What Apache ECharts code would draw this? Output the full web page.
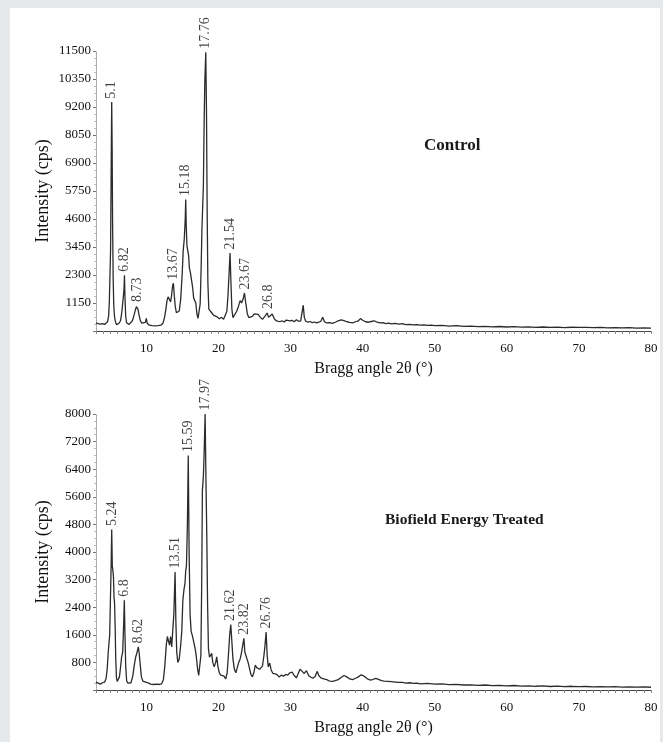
<!DOCTYPE html>
<html>
<head>
<meta charset="utf-8">
<script src="https://cdn.jsdelivr.net/npm/echarts@6/dist/echarts.min.js"></script>
<style>
html,body{margin:0;padding:0;background:#e6e9eb;}
#c{width:663px;height:742px;}
</style>
</head>
<body>
<div id="c"></div>
<script>
// ---- Control pattern (2θ in degrees, intensity in cps) ----
const controlTheta = [3.0,3.3,3.6,3.9,4.2,4.4,4.6,4.75,4.85,4.95,5.02,5.08,5.14,5.18,5.24,5.3,5.38,5.46,5.56,5.7,5.85,6.0,6.2,6.4,6.55,6.68,6.78,6.88,6.95,7.02,7.12,7.25,7.4,7.6,7.85,8.05,8.25,8.45,8.6,8.7,8.82,8.98,9.15,9.35,9.6,9.85,9.98,10.1,10.4,10.8,11.2,11.6,12.0,12.3,12.5,12.7,12.85,13.0,13.15,13.35,13.5,13.62,13.74,13.85,14.0,14.15,14.35,14.55,14.75,14.95,15.1,15.25,15.38,15.45,15.52,15.62,15.75,15.85,15.95,16.1,16.25,16.4,16.55,16.7,16.85,17.0,17.15,17.3,17.45,17.58,17.7,17.8,17.9,18.0,18.1,18.23,18.33,18.42,18.52,18.65,18.85,19.05,19.3,19.55,19.8,20.1,20.4,20.7,20.95,21.15,21.3,21.45,21.6,21.72,21.85,22.0,22.2,22.5,22.75,23.0,23.2,23.4,23.6,23.8,24.0,24.2,24.45,24.7,24.95,25.2,25.5,25.8,26.1,26.35,26.55,26.75,26.95,27.2,27.45,27.7,27.95,28.2,28.5,28.8,29.1,29.4,29.6,29.9,30.2,30.5,30.8,31.1,31.4,31.6,31.75,31.9,32.1,32.4,32.7,33.0,33.3,33.6,33.9,34.2,34.45,34.7,35.0,35.4,35.8,36.2,36.6,37.0,37.4,37.8,38.2,38.6,39.0,39.4,39.7,40.0,40.4,40.8,41.2,41.6,42.0,42.4,42.8,43.2,43.6,44.0,44.5,45.0,45.5,46.0,46.5,47.0,47.5,48.0,48.5,49.0,49.5,50,51,52,53,54,55,56,57,58,59,60,61,62,63,64,65,66,67,68,69,70,71,72,73,74,75,76,77,78,79,80];
const controlIntensity = [330,300,280,300,270,300,380,600,1200,2400,3300,5500,8000,9400,7500,4500,2200,1100,600,380,260,280,320,420,700,1050,1100,1700,2290,1400,600,330,260,270,330,420,620,850,1000,1050,900,650,430,320,290,350,520,320,240,220,210,220,240,320,550,900,1250,1400,1350,1200,1500,1850,1960,1500,1000,750,700,820,1300,2300,3300,3800,4600,5400,4300,3500,3450,3100,2600,2400,2350,1800,1350,1300,1150,700,520,600,1100,2500,4200,5100,6000,8500,10300,11450,9000,5000,2000,900,850,750,650,700,580,500,560,480,520,800,1400,2300,3200,2000,900,550,600,800,1000,1250,1150,1300,1560,1100,700,550,520,600,700,720,680,560,480,560,650,740,560,620,700,520,430,470,380,420,370,450,500,420,440,380,460,400,420,480,1060,560,400,360,390,340,370,330,360,400,560,380,330,340,310,360,420,460,430,380,350,330,380,420,510,440,380,360,390,420,360,330,340,300,320,290,310,280,300,260,270,250,260,240,250,230,240,220,230,200,220,190,200,180,190,170,185,165,180,160,170,150,165,150,160,140,155,145,150,135,145,130,140,125,135,120,130,120];

// ---- Biofield Energy Treated pattern ----
const treatedTheta = [3.0,3.3,3.6,3.9,4.2,4.4,4.55,4.7,4.8,4.9,5.0,5.1,5.18,5.26,5.34,5.42,5.5,5.58,5.66,5.74,5.84,5.95,6.1,6.25,6.4,6.55,6.7,6.82,6.93,7.02,7.12,7.25,7.4,7.6,7.85,8.1,8.3,8.5,8.7,8.87,9.0,9.15,9.3,9.5,9.75,10.0,10.3,10.6,11.0,11.4,11.8,12.1,12.35,12.55,12.75,12.9,13.05,13.2,13.35,13.5,13.65,13.8,13.97,14.08,14.2,14.35,14.55,14.75,14.9,15.05,15.2,15.35,15.45,15.55,15.68,15.8,15.92,16.05,16.2,16.35,16.5,16.65,16.8,16.95,17.1,17.25,17.4,17.55,17.66,17.76,17.9,18.02,18.14,18.26,18.37,18.48,18.6,18.75,18.9,19.05,19.2,19.4,19.6,19.75,19.9,20.1,20.3,20.5,20.75,21.0,21.2,21.4,21.55,21.7,21.85,22.0,22.2,22.4,22.6,22.8,23.0,23.2,23.4,23.52,23.65,23.8,23.95,24.1,24.3,24.5,24.7,24.9,25.1,25.3,25.5,25.7,25.9,26.1,26.3,26.45,26.6,26.75,26.9,27.1,27.3,27.55,27.8,28.1,28.4,28.7,29.0,29.3,29.6,29.9,30.2,30.5,30.8,31.0,31.3,31.6,31.9,32.2,32.5,32.8,33.1,33.4,33.7,33.9,34.2,34.6,35.0,35.4,35.8,36.2,36.6,37.0,37.4,37.8,38.2,38.6,39.0,39.4,39.8,40.2,40.6,41.0,41.4,41.8,42.2,42.6,43.0,43.5,44.0,44.5,45.0,45.5,46.0,46.5,47.0,47.5,48.0,49,50,51,52,53,54,55,56,57,58,59,60,61,62,63,64,65,66,67,68,69,70,71,72,73,74,75,76,77,78,79,80];
const treatedIntensity = [230,200,170,210,230,330,600,1100,1350,1600,2600,3600,4650,3600,3470,3300,2700,2500,1800,900,350,250,270,380,650,950,1100,1800,2600,1600,700,270,200,180,210,400,700,950,1100,1250,1050,700,380,260,280,220,200,170,160,170,160,180,300,700,1300,1550,1500,1300,1550,1250,1200,2200,3420,2000,1100,800,900,1300,1700,2600,2900,3100,3470,3600,4800,6800,4000,2200,1700,1590,1450,1300,1150,900,600,420,400,1000,3000,5780,6200,7000,8000,6000,4500,2500,1200,950,900,1060,800,670,800,960,700,500,430,385,400,320,500,1100,1600,1900,1400,900,600,500,650,800,900,1100,1350,1500,1100,1000,950,800,620,450,380,500,720,650,650,600,650,700,1000,1300,1680,1000,670,780,580,480,430,450,380,430,400,450,430,500,520,420,350,400,600,540,480,560,420,370,340,390,540,420,350,320,300,260,250,270,300,360,420,380,320,300,340,380,440,400,330,290,300,340,310,270,260,250,240,230,220,220,200,210,190,200,180,190,170,175,155,165,145,150,135,145,125,135,120,130,112,122,108,118,102,112,98,108,95,102,90,98,88,95,85,92,82,88,80];

// ---- Peak annotations ----
const controlPeakTheta = [5.18,6.95,8.75,13.74,15.45,18.23,21.6,23.65,26.85];
const controlPeakIntensity = [9400,2290,1050,1960,5400,11450,3200,1560,760];
const controlPeakLabels = ['5.1','6.82','8.73','13.67','15.18','17.76','21.54','23.67','26.8'];

const treatedPeakTheta = [5.22,6.93,8.87,13.97,15.8,18.14,21.7,23.55,26.6];
const treatedPeakIntensity = [4650,2600,1250,3420,6800,8000,1900,1500,1680];
const treatedPeakLabels = ['5.24','6.8','8.62','13.51','15.59','17.97','21.62','23.82','26.76'];

// ---- Axis settings ----
const xRange = [3, 80];
const controlYTicks = {max: 11500, step: 1150};
const treatedYTicks = {max: 8000, step: 800};
const panelTitles = ['Control', 'Biofield Energy Treated'];

const FONT = "'Liberation Serif','Times New Roman',serif";
const zip = (a, b) => a.map((v, i) => [v, b[i]]);

function xAxisCfg(idx) {
  return {
    type: 'value', gridIndex: idx, min: xRange[0], max: xRange[1], interval: 1,
    name: 'Bragg angle 2θ (°)', nameLocation: 'middle', nameGap: 30,
    nameTextStyle: {fontFamily: FONT, fontSize: 16, color: '#111'},
    axisLine: {lineStyle: {color: '#444', width: 1}},
    axisTick: {length: 3, lineStyle: {color: '#888'}},
    axisLabel: {
      margin: 11, fontFamily: FONT, fontSize: 13, color: '#111',
      formatter: v => (v % 10 === 0 ? String(v) : '')
    },
    splitLine: {show: false}
  };
}
function yAxisCfg(idx, t, gap) {
  return {
    type: 'value', gridIndex: idx, min: 0, max: t.max, interval: t.step,
    name: 'Intensity (cps)', nameLocation: 'middle', nameGap: gap, nameMoveOverlap: false,
    nameTextStyle: {fontFamily: FONT, fontSize: 18, color: '#111'},
    axisLine: {show: true, lineStyle: {color: '#999', type: 'dotted', width: 1}},
    axisTick: {show: true, length: 3, lineStyle: {color: '#777'}},
    minorTick: {show: true, splitNumber: 4, length: 2, lineStyle: {color: '#bbb'}},
    axisLabel: {showMinLabel: false, margin: 5, fontFamily: FONT, fontSize: 13, color: '#111',
      formatter: v => String(v)},
    splitLine: {show: false}
  };
}
function lineSeries(idx, xs, ys) {
  return {
    type: 'line', xAxisIndex: idx, yAxisIndex: idx, data: zip(xs, ys),
    showSymbol: false, symbol: 'none', smooth: false,
    lineStyle: {color: '#2b2b2b', width: 1.3}, silent: true
  };
}
function peakSeries(idx, xs, ys, labels) {
  return {
    type: 'scatter', xAxisIndex: idx, yAxisIndex: idx, symbolSize: 1, clip: false,
    itemStyle: {color: 'rgba(0,0,0,0)'},
    data: xs.map((x, i) => ({value: [x, ys[i]], name: labels[i]})),
    label: {
      show: true, position: 'top', distance: 3, rotate: 90,
      align: 'left', verticalAlign: 'middle', offset: [0, 0],
      formatter: p => p.name, fontFamily: FONT, fontSize: 14, color: '#111'
    },
    silent: true
  };
}

const chart = echarts.init(document.getElementById('c'));
chart.setOption({
  backgroundColor: '#e6e9eb',
  animation: false,
  graphic: [
    {type: 'rect', z: -10, shape: {x: 10, y: 8, width: 650, height: 734}, style: {fill: '#ffffff'}},
    {type: 'text', left: 424, top: 137, style: {text: panelTitles[0], font: "bold 17px " + FONT, fill: '#1a1a1a'}},
    {type: 'text', left: 385, top: 512, style: {text: panelTitles[1], font: "bold 15.5px " + FONT, fill: '#1a1a1a'}}
  ],
  grid: [
    {left: 96, top: 51, width: 555, height: 280},
    {left: 96, top: 414, width: 555, height: 276}
  ],
  xAxis: [xAxisCfg(0), xAxisCfg(1)],
  yAxis: [yAxisCfg(0, controlYTicks, 44), yAxisCfg(1, treatedYTicks, 44)],
  series: [
    lineSeries(0, controlTheta, controlIntensity),
    lineSeries(1, treatedTheta, treatedIntensity),
    peakSeries(0, controlPeakTheta, controlPeakIntensity, controlPeakLabels),
    peakSeries(1, treatedPeakTheta, treatedPeakIntensity, treatedPeakLabels)
  ]
});
</script>
</body>
</html>
